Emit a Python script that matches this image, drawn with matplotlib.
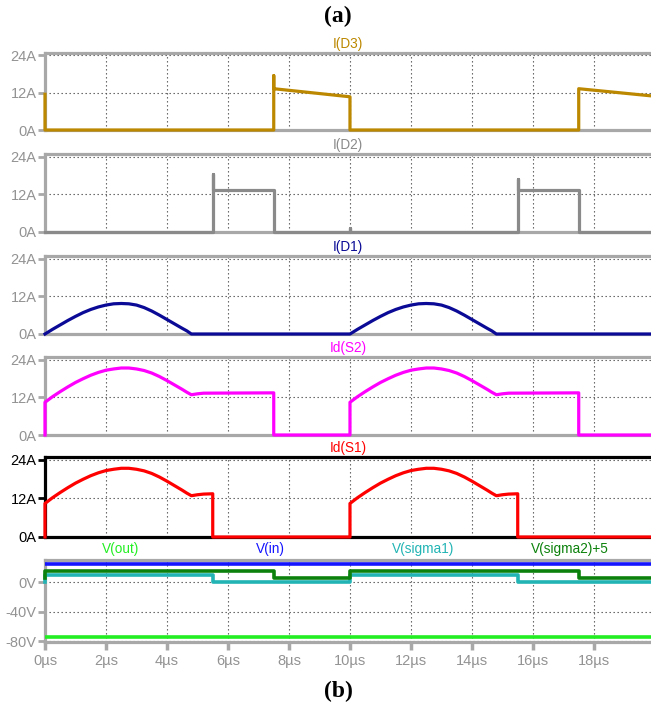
"""Recreate the LTspice-style waveform stack (currents and gate voltages)."""

import matplotlib.pyplot as plt
from matplotlib.ticker import FixedLocator

# time axis end (window is clipped at the right edge)
T_END = 19.87
PERIOD = 10.0

# I(D3)
t_d3 = [0.0, 0.0, 7.5, 7.5, 7.5, 10.0, 10.0, 17.5, 17.5, T_END]
i_d3 = [11.5, 0.0, 0.0, 17.5, 13.3, 10.7, 0.0, 0.0, 13.3, 11.0]

# I(D2)
t_d2 = [0.0, 5.5, 5.5, 5.5, 7.5, 7.5, 10.0, 10.0, 10.0, 15.5, 15.5, 15.5, 17.5, 17.5, T_END]
i_d2 = [0.0, 0.0, 18.4, 13.2, 13.2, 0.0, 0.0, 1.3, 0.0, 0.0, 16.7, 13.2, 13.2, 0.0, 0.0]

# I(D1), one hump per period
t_d1_hump = [0.0, 0.25, 0.5, 0.75, 1.0, 1.25, 1.5, 1.75, 2.0, 2.25, 2.5, 2.75,
             3.0, 3.25, 3.5, 3.75, 4.0, 4.25, 4.5, 4.65, 4.8]
i_d1_hump = [0.0, 1.5, 2.9, 4.3, 5.6, 6.8, 7.8, 8.6, 9.2, 9.6, 9.7, 9.6,
             9.2, 8.4, 7.3, 6.0, 4.6, 3.2, 1.8, 1.0, 0.0]

# switch current hump, shared by Id(S1) and Id(S2)
t_sw_hump = [0.0, 0.0, 0.25, 0.5, 0.75, 1.0, 1.25, 1.5, 1.75, 2.0, 2.25, 2.5, 2.75,
             3.0, 3.25, 3.5, 3.75, 4.0, 4.25, 4.5, 4.65, 4.8, 5.0, 5.2]
i_sw_hump = [0.0, 10.4, 12.2, 13.8, 15.3, 16.7, 17.9, 19.0, 19.9, 20.6, 21.0, 21.3, 21.3,
             21.0, 20.5, 19.7, 18.6, 17.3, 15.9, 14.5, 13.6, 12.8, 13.1, 13.3]
s2_off = 7.5   # Id(S2) turn-off time in each period
s1_off = 5.5   # Id(S1) turn-off time in each period
sw_flat = 13.4

# voltages
t_vdc = [0.0, T_END]
v_out = [-74.6, -74.6]
v_in = [24.0, 24.0]
t_sig1 = [0.0, 0.0, 5.5, 5.5, 10.0, 10.0, 15.5, 15.5, T_END]
v_sig1 = [0.0, 10.0, 10.0, 0.0, 0.0, 10.0, 10.0, 0.0, 0.0]
t_sig2 = [0.0, 0.0, 7.5, 7.5, 10.0, 10.0, 17.5, 17.5, T_END]
v_sig2p5 = [5.0, 14.5, 14.5, 5.0, 5.0, 14.5, 14.5, 5.0, 5.0]

x_ticks = [0, 2, 4, 6, 8, 10, 12, 14, 16, 18]
x_labels = ["0µs", "2µs", "4µs", "6µs", "8µs", "10µs", "12µs", "14µs", "16µs", "18µs"]
amp_ticks = [0, 12, 24]
amp_labels = ["0A", "12A", "24A"]
volt_ticks = [-80, -40, 0]
volt_labels = ["-80V", "-40V", "0V"]

GRAY = "#a8a8a8"
LABEL_GRAY = "#939393"
NARROW = ["Liberation Sans Narrow", "Liberation Sans", "DejaVu Sans"]
SERIF = ["Liberation Serif", "DejaVu Serif"]

W, H = 651, 709


def two_periods(t_hump, i_hump, off_time=None):
    """Repeat one period of a switching waveform twice."""
    t, i = [], []
    for k in range(2):
        base = k * PERIOD
        t += [base + x for x in t_hump]
        i += list(i_hump)
        if off_time is not None:
            t += [base + off_time, base + off_time]
            i += [sw_flat, 0.0]
        t.append(base + PERIOD)
        i.append(0.0)
    t[-1] = T_END
    return t, i


def make_axes(fig, top, bottom, frame_color):
    ax = fig.add_axes([45 / W, 1 - bottom / H, (W - 45) / W, (bottom - top) / H])
    ax.set_xlim(0, T_END)
    for side in ("top", "left", "bottom"):
        ax.spines[side].set_color(frame_color)
        ax.spines[side].set_linewidth(2.3)
    ax.spines["right"].set_visible(False)
    ax.xaxis.set_major_locator(FixedLocator(x_ticks))
    ax.grid(True, color="#505050", linestyle=(0, (1.2, 2.4)), linewidth=0.8)
    ax.tick_params(axis="y", length=5, width=2, color=frame_color, pad=1,
                   labelsize=10.5, labelcolor=frame_color if frame_color != GRAY else LABEL_GRAY)
    ax.tick_params(axis="x", length=0, labelbottom=False)
    return ax


def current_panel(fig, top, bottom, t, i, color, title, frame_color=GRAY):
    ax = make_axes(fig, top, bottom, frame_color)
    ax.set_ylim(0, 24.8)
    ax.set_yticks(amp_ticks)
    ax.set_yticklabels(amp_labels, family=NARROW)
    ax.plot(t, i, color=color, linewidth=2.3, solid_joinstyle="round", clip_on=False, zorder=5)
    ax.set_title(title, color=color, fontsize=9.8, family=NARROW, pad=3.5)
    return ax


def create_plot():
    fig = plt.figure(figsize=(W / 100, H / 100), dpi=100)

    t_d1, i_d1 = two_periods(t_d1_hump, i_d1_hump)
    t_s2, i_s2 = two_periods(t_sw_hump, i_sw_hump, s2_off)
    t_s1, i_s1 = two_periods(t_sw_hump, i_sw_hump, s1_off)

    current_panel(fig, 53, 130, t_d3, i_d3, "#bb8800", "I(D3)")
    current_panel(fig, 154, 232, t_d2, i_d2, "#8a8a8a", "I(D2)")
    current_panel(fig, 256, 334, t_d1, i_d1, "#0a0a96", "I(D1)")
    current_panel(fig, 357, 435, t_s2, i_s2, "#ff00ff", "Id(S2)")
    current_panel(fig, 457, 537, t_s1, i_s1, "#ff0000", "Id(S1)", frame_color="black")

    # voltage panel
    ax6 = make_axes(fig, 560, 642, GRAY)
    ax6.set_ylim(-81, 30)
    ax6.set_yticks(volt_ticks)
    ax6.set_yticklabels(volt_labels, family=NARROW)
    ax6.tick_params(axis="x", length=6, width=2.5, color=GRAY, labelbottom=True,
                    labelsize=10.5, labelcolor=LABEL_GRAY, pad=3)
    ax6.set_xticks(x_ticks)
    ax6.set_xticklabels(x_labels, family=NARROW)
    ax6.plot(t_vdc, v_out, color="#22ee22", linewidth=2.6, zorder=5)
    ax6.plot(t_vdc, v_in, color="#1414ff", linewidth=2.6, zorder=5)
    ax6.plot(t_sig1, v_sig1, color="#22b4b4", linewidth=2.6, zorder=5, clip_on=False)
    ax6.plot(t_sig2, v_sig2p5, color="#0c820c", linewidth=2.6, zorder=6, clip_on=False)

    names = [("V(out)", "#22ee22", 121), ("V(in)", "#1414ff", 270),
             ("V(sigma1)", "#22b4b4", 423), ("V(sigma2)+5", "#0c820c", 570)]
    for name, color, xpx in names:
        fig.text(xpx / W, 1 - 549 / H, name, color=color, fontsize=9.8, family=NARROW,
                 ha="center", va="center")

    fig.text(338 / W, 1 - 16 / H, "(a)", fontsize=17, fontweight="bold",
             family=SERIF, ha="center", va="center")
    fig.text(338 / W, 1 - 691 / H, "(b)", fontsize=17, fontweight="bold",
             family=SERIF, ha="center", va="center")

    fig.savefig("out.png", dpi=100)


if __name__ == "__main__":
    create_plot()
